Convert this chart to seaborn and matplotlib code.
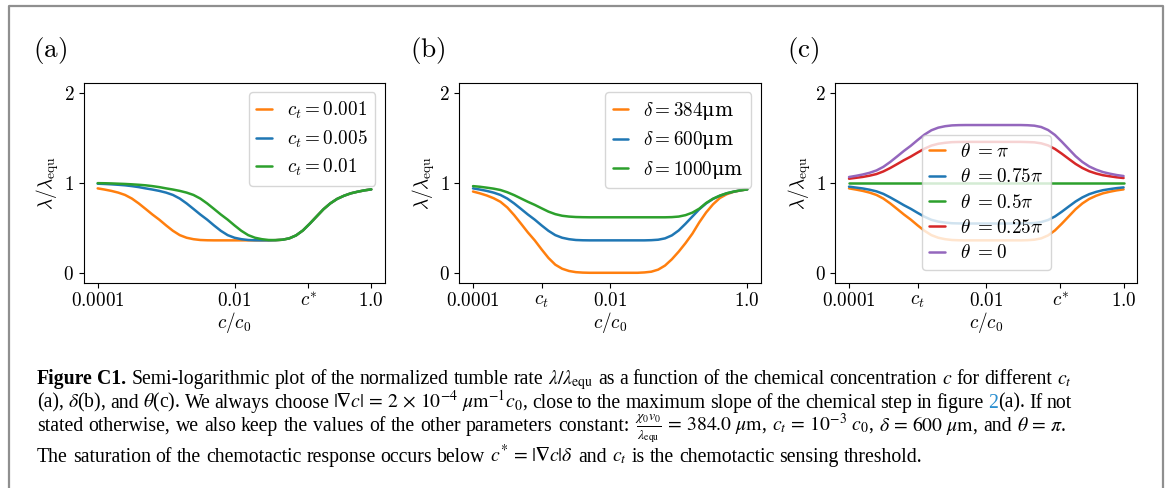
import numpy as np
import matplotlib
matplotlib.use("Agg")
import matplotlib.pyplot as plt
import seaborn as sns
from matplotlib.ticker import NullLocator
from matplotlib.lines import Line2D

# ---------------- data ----------------
c_exp = [-4.0, -3.9, -3.8, -3.7, -3.6, -3.5, -3.4, -3.3, -3.2, -3.1, -3.0,
         -2.9, -2.8, -2.7, -2.6, -2.5, -2.4, -2.3, -2.2, -2.1, -2.0,
         -1.9, -1.8, -1.7, -1.6, -1.5, -1.4, -1.3, -1.2, -1.1, -1.0,
         -0.9, -0.8, -0.7, -0.6, -0.5, -0.4, -0.3, -0.2, -0.1, 0.0]

# default parameters curve (c_t=0.001, delta=600um, theta=pi)
lam_default = [0.937, 0.924, 0.909, 0.890, 0.864, 0.824, 0.770, 0.709, 0.647, 0.590, 0.526,
               0.466, 0.418, 0.389, 0.373, 0.364, 0.361, 0.360, 0.360, 0.360, 0.360,
               0.360, 0.360, 0.360, 0.360, 0.360, 0.362, 0.367, 0.382, 0.415, 0.470,
               0.545, 0.625, 0.705, 0.770, 0.820, 0.855, 0.882, 0.900, 0.915, 0.926]

# panel (a)
a_ct_0005 = [0.989, 0.986, 0.982, 0.977, 0.971, 0.962, 0.951, 0.937, 0.924, 0.909, 0.890,
             0.864, 0.824, 0.770, 0.709, 0.647, 0.590, 0.526, 0.466, 0.418, 0.389,
             0.373, 0.364, 0.361, 0.360, 0.360, 0.362, 0.367, 0.382, 0.415, 0.470,
             0.545, 0.625, 0.705, 0.770, 0.820, 0.855, 0.882, 0.900, 0.915, 0.926]
a_ct_001 = [0.995, 0.994, 0.992, 0.989, 0.986, 0.982, 0.977, 0.971, 0.962, 0.951, 0.937,
            0.924, 0.909, 0.890, 0.864, 0.824, 0.770, 0.709, 0.647, 0.590, 0.526,
            0.466, 0.418, 0.389, 0.373, 0.364, 0.363, 0.367, 0.382, 0.415, 0.470,
            0.545, 0.625, 0.705, 0.770, 0.820, 0.855, 0.882, 0.900, 0.915, 0.926]

# panel (b)
b_d384 = [0.902, 0.882, 0.858, 0.828, 0.788, 0.725, 0.640, 0.545, 0.448, 0.360, 0.260,
          0.165, 0.090, 0.045, 0.020, 0.007, 0.002, 0.000, 0.000, 0.000, 0.000,
          0.000, 0.000, 0.000, 0.000, 0.004, 0.012, 0.035, 0.080, 0.150, 0.235,
          0.330, 0.435, 0.560, 0.670, 0.760, 0.830, 0.872, 0.898, 0.914, 0.926]
b_d1000 = [0.962, 0.955, 0.945, 0.934, 0.919, 0.894, 0.862, 0.825, 0.788, 0.754, 0.716,
           0.679, 0.651, 0.633, 0.624, 0.619, 0.617, 0.616, 0.616, 0.616, 0.616,
           0.616, 0.616, 0.616, 0.616, 0.616, 0.616, 0.616, 0.616, 0.618, 0.624,
           0.640, 0.668, 0.712, 0.775, 0.822, 0.857, 0.883, 0.901, 0.915, 0.926]

# panel (c)
c_th075 = [0.956, 0.946, 0.936, 0.922, 0.904, 0.876, 0.837, 0.794, 0.750, 0.710, 0.665,
           0.622, 0.588, 0.568, 0.557, 0.550, 0.548, 0.547, 0.547, 0.547, 0.547,
           0.547, 0.547, 0.547, 0.547, 0.547, 0.549, 0.552, 0.563, 0.586, 0.625,
           0.678, 0.735, 0.791, 0.837, 0.873, 0.898, 0.917, 0.929, 0.940, 0.948]
c_th05 = [1.0] * len(c_exp)
c_th025 = [1.044, 1.054, 1.064, 1.078, 1.096, 1.125, 1.163, 1.206, 1.250, 1.290, 1.335,
           1.378, 1.412, 1.432, 1.443, 1.450, 1.452, 1.453, 1.453, 1.453, 1.453,
           1.453, 1.453, 1.453, 1.453, 1.453, 1.451, 1.448, 1.437, 1.414, 1.375,
           1.322, 1.265, 1.209, 1.163, 1.127, 1.102, 1.083, 1.071, 1.060, 1.052]
c_th0 = [1.063, 1.076, 1.091, 1.110, 1.136, 1.176, 1.230, 1.291, 1.353, 1.410, 1.474,
         1.534, 1.582, 1.611, 1.627, 1.636, 1.639, 1.640, 1.640, 1.640, 1.640,
         1.640, 1.640, 1.640, 1.640, 1.640, 1.638, 1.633, 1.618, 1.585, 1.530,
         1.455, 1.375, 1.295, 1.230, 1.180, 1.145, 1.118, 1.100, 1.085, 1.074]

labels_a = [r"$c_t=0.001$", r"$c_t=0.005$", r"$c_t=0.01$"]
labels_b = [r"$\delta=384$μm", r"$\delta=600$μm", r"$\delta=1000$μm"]
labels_c = [r"$\theta\ {=}\pi$", r"$\theta\ {=}0.75\pi$", r"$\theta\ {=}0.5\pi$",
            r"$\theta\ {=}0.25\pi$", r"$\theta\ {=}0$"]

ticks_a = ([1e-4, 1e-2, 0.12, 1.0], [r"$0.0001$", r"$0.01$", r"$c^{*}$", r"$1.0$"])
ticks_b = ([1e-4, 1e-3, 1e-2, 1.0], [r"$0.0001$", r"$c_t$", r"$0.01$", r"$1.0$"])
ticks_c = ([1e-4, 1e-3, 1e-2, 0.12, 1.0], [r"$0.0001$", r"$c_t$", r"$0.01$", r"$c^{*}$", r"$1.0$"])

ORANGE, BLUE, GREEN, RED, PURPLE = "#ff7f0e", "#1f77b4", "#2ca02c", "#d62728", "#9467bd"

# ---------------- style ----------------
sns.set_theme(style="ticks")
plt.rcParams.update({
    "font.family": ["DejaVu Serif"],
    "mathtext.fontset": "cm",
    "axes.edgecolor": "black",
    "axes.linewidth": 0.8,
    "axes.facecolor": "white",
    "figure.facecolor": "white",
    "text.color": "black",
    "axes.labelcolor": "black",
    "xtick.color": "black",
    "ytick.color": "black",
    "xtick.major.size": 3.5,
    "ytick.major.size": 3.5,
    "xtick.major.width": 0.8,
    "ytick.major.width": 0.8,
    "legend.framealpha": 0.8,
    "legend.edgecolor": "0.8",
    "legend.fancybox": True,
})

W, H = 1168, 488
fig = plt.figure(figsize=(W / 100, H / 100), dpi=100)

FS = 13.8
c_vals = 10 ** np.array(c_exp)

def make_ax(left, right, series, colors, labels, ticks, legend_kw):
    ax = fig.add_axes([left / W, 1 - 282.7 / H, (right - left) / W, 200 / H])
    ax.set_xscale("log")
    for y, col, lab in zip(series, colors, labels):
        sns.lineplot(x=c_vals, y=y, ax=ax, color=col, label=lab, linewidth=1.8,
                     estimator=None, sort=False)
    ax.set_xlim(10 ** -4.2, 10 ** 0.2)
    ax.set_ylim(-0.11, 2.11)
    ax.set_xticks(ticks[0])
    ax.set_xticklabels(ticks[1])
    ax.xaxis.set_minor_locator(NullLocator())
    ax.set_yticks([0, 1, 2])
    ax.set_yticklabels([r"$0$", r"$1$", r"$2$"])
    ax.tick_params(labelsize=FS)
    for s in ax.spines.values():
        s.set_visible(True)
        s.set_color("black")
    ax.set_xlabel(r"$c/c_0$", fontsize=FS)
    ax.set_ylabel(r"$\lambda/\lambda_{\mathrm{equ}}$", fontsize=FS)
    ax.xaxis.label.set_va("center")
    ax.yaxis.label.set_va("center")
    ax.xaxis.set_label_coords(0.5, -0.197)
    ax.yaxis.set_label_coords(-36 / (right - left), 0.5)
    ax.legend(fontsize=FS, handlelength=0.8, handletextpad=0.8, labelspacing=0.38, **legend_kw)
    return ax

ax_a = make_ax(84, 385, [lam_default, a_ct_0005, a_ct_001], [ORANGE, BLUE, GREEN],
               labels_a, ticks_a, dict(loc="upper right"))
ax_b = make_ax(459.3, 761, [b_d384, lam_default, b_d1000], [ORANGE, BLUE, GREEN],
               labels_b, ticks_b, dict(loc="upper right"))
ax_c = make_ax(835.3, 1137.3, [lam_default, c_th075, c_th05, c_th025, c_th0],
               [ORANGE, BLUE, GREEN, RED, PURPLE], labels_c, ticks_c,
               dict(loc="center", bbox_to_anchor=(0.5, 0.40)))

for lab, xp in [("(a)", 33), ("(b)", 410), ("(c)", 787)]:
    fig.text(xp / W, 1 - 51 / H, r"$\mathrm{" + lab + "}$", fontsize=19.5, va="center", ha="left")

# outer frame
fig.add_artist(Line2D([8.5 / W, 8.5 / W, 1163.3 / W, 1163.3 / W], [-0.05, 1 - 6 / H, 1 - 6 / H, -0.05],
                      transform=fig.transFigure, color="#8f8f8f", lw=1.6))

# ---------------- caption ----------------
CFS = 14.2
LINK = "#2b8fd0"
renderer = fig.canvas.get_renderer()

def tokens(s):
    out, cur, inmath = [], "", False
    for ch in s:
        if ch == "$":
            inmath = not inmath
        if ch == " " and not inmath:
            if cur:
                out.append(cur)
            cur = ""
        else:
            cur += ch
    if cur:
        out.append(cur)
    return out

def words(s, **kw):
    return [[(t, kw)] for t in tokens(s)]

def draw_line(wlist, x0, base, x_end=None):
    y = 1 - base / H
    arts = []
    widths = []
    for w in wlist:
        parts = []
        for s, kw in w:
            t = fig.text(0, y, s, va="baseline", ha="left", fontsize=CFS,
                         family="Liberation Serif", math_fontfamily="stix", **kw)
            bb = t.get_window_extent(renderer=renderer)
            parts.append((t, bb.width))
        arts.append(parts)
        widths.append(sum(p[1] for p in parts))
    space = 0.25 * CFS * 100 / 72
    if x_end is not None and len(wlist) > 1:
        space = (x_end - x0 - sum(widths)) / (len(wlist) - 1)
    x = x0
    for parts, wd in zip(arts, widths):
        xx = x
        for t, pw in parts:
            t.set_x(xx / W)
            xx += pw
        x += wd + space

L1 = words("Figure C1.", weight="bold") + words(
    r"Semi-logarithmic plot of the normalized tumble rate $\lambda/\lambda_{\mathrm{equ}}$ as a function "
    r"of the chemical concentration $c$ for different $c_t$")
L2 = words(r"(a), $\delta$(b), and $\theta$(c). We always choose $|\mathbf{\nabla} c|\,=\,2\,\times\,10^{-4}\ \mu\mathrm{m}^{-1}c_0$, "
           r"close to the maximum slope of the chemical step in figure") + \
    [[("2", dict(color=LINK)), ("(a).", {})]] + words("If not")
L3 = words(r"stated otherwise, we also keep the values of the other parameters constant: "
           r"$\frac{\chi_0 v_0}{\lambda_{\mathrm{equ}}}\,=\,384.0\ \mu\mathrm{m}$, $c_t\,=\,10^{-3}\ c_0$, "
           r"$\delta\,=\,600\ \mu\mathrm{m}$, and $\theta\,=\,\pi$.")
L4 = words(r"The saturation of the chemotactic response occurs below $c^{*}\,=\,|\mathbf{\nabla} c|\delta$ "
           r"and $c_t$ is the chemotactic sensing threshold.")

draw_line(L1, 37, 384.3, 1072)
draw_line(L2, 37, 407.7, 1072)
draw_line(L3, 37, 430.7, 1066)
draw_line(L4, 37, 461.7)

fig.savefig("out.png", dpi=100)
